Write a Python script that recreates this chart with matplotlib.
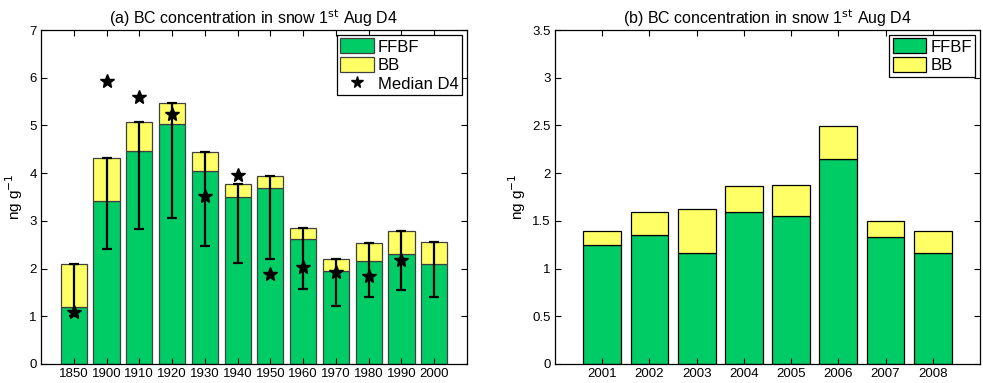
import numpy as np
import matplotlib
matplotlib.use("Agg")
import matplotlib.pyplot as plt

plt.rcParams['font.family'] = ['Liberation Sans', 'DejaVu Sans']

# BC in snow, 1st Aug, D4: decades
decades = ['1850', '1900', '1910', '1920', '1930', '1940', '1950',
           '1960', '1970', '1980', '1990', '2000']
ffbf_dec = [1.20, 3.42, 4.46, 5.04, 4.05, 3.49, 3.69, 2.63, 1.94, 2.16, 2.30, 2.10]
total_dec = [2.10, 4.31, 5.08, 5.47, 4.44, 3.78, 3.93, 2.84, 2.20, 2.54, 2.79, 2.55]
err_low = [1.00, 2.41, 2.83, 3.06, 2.48, 2.12, 2.20, 1.58, 1.22, 1.41, 1.55, 1.41]
median_d4 = [1.09, 5.93, 5.60, 5.25, 3.52, 3.96, 1.88, 2.03, 1.93, 1.85, 2.19, np.nan]

# recent years
years = ['2001', '2002', '2003', '2004', '2005', '2006', '2007', '2008']
ffbf_yr = [1.25, 1.35, 1.16, 1.59, 1.55, 2.15, 1.33, 1.16]
total_yr = [1.39, 1.59, 1.62, 1.87, 1.88, 2.49, 1.50, 1.39]

green = '#00cc66'
yellow = '#ffff66'

fig = plt.figure(figsize=(9.83, 3.83), dpi=100)
ax1 = fig.add_axes([41 / 983, 19 / 383, 426 / 983, 334 / 383])
ax2 = fig.add_axes([555 / 983, 19 / 383, 425 / 983, 334 / 383])


def style(ax, n):
    ax.set_xlim(0, n + 1)
    ax.tick_params(direction='in', top=True, right=True, labelsize=9.5,
                   length=4, width=0.8, pad=3)
    for s in ax.spines.values():
        s.set_linewidth(0.9)
    ax.set_ylabel('ng g$^{-1}$', fontsize=11, labelpad=3)


def legend(ax, handles):
    leg = ax.legend(handles=handles, loc='upper right', fontsize=12,
                    frameon=True, fancybox=False, edgecolor='black',
                    framealpha=1, borderaxespad=0.3, handlelength=2.0,
                    handleheight=1.0, borderpad=0.2, labelspacing=0.15,
                    handletextpad=0.25, markerscale=0.85)
    leg.get_frame().set_linewidth(0.9)


x1 = np.arange(1, len(decades) + 1)
bb_dec = np.array(total_dec) - np.array(ffbf_dec)
b1 = ax1.bar(x1, ffbf_dec, 0.8, color=green, edgecolor='#404040',
             linewidth=0.9, label='FFBF')
b2 = ax1.bar(x1, bb_dec, 0.8, bottom=ffbf_dec, color=yellow,
             edgecolor='#404040', linewidth=0.9, label='BB')
ax1.errorbar(x1, total_dec,
             yerr=[np.array(total_dec) - np.array(err_low), np.zeros(len(x1))],
             fmt='none', ecolor='black', elinewidth=1.6, capsize=3.3,
             capthick=1.6)
st, = ax1.plot(x1, median_d4, linestyle='none', marker='*', color='black',
               markersize=10, label='Median D4')
ax1.set_ylim(0, 7)
ax1.set_xticks(x1)
ax1.set_xticklabels(decades)
style(ax1, len(decades))
ax1.set_title('(a) BC concentration in snow 1$^{\\mathrm{st}}$ Aug D4',
              fontsize=11.5, pad=4)
legend(ax1, [b1, b2, st])

x2 = np.arange(1, len(years) + 1)
bb_yr = np.array(total_yr) - np.array(ffbf_yr)
c1 = ax2.bar(x2, ffbf_yr, 0.8, color=green, edgecolor='black', linewidth=0.9,
             label='FFBF')
c2 = ax2.bar(x2, bb_yr, 0.8, bottom=ffbf_yr, color=yellow, edgecolor='black',
             linewidth=0.9, label='BB')
ax2.set_ylim(0, 3.5)
ax2.set_yticks(np.arange(0, 3.51, 0.5))
ax2.set_yticklabels(['0', '0.5', '1', '1.5', '2', '2.5', '3', '3.5'])
ax2.set_xticks(x2)
ax2.set_xticklabels(years)
style(ax2, len(years))
ax2.set_title('(b) BC concentration in snow 1$^{\\mathrm{st}}$ Aug D4',
              fontsize=11.5, pad=4)
legend(ax2, [c1, c2])

fig.savefig('out.png', dpi=100)
